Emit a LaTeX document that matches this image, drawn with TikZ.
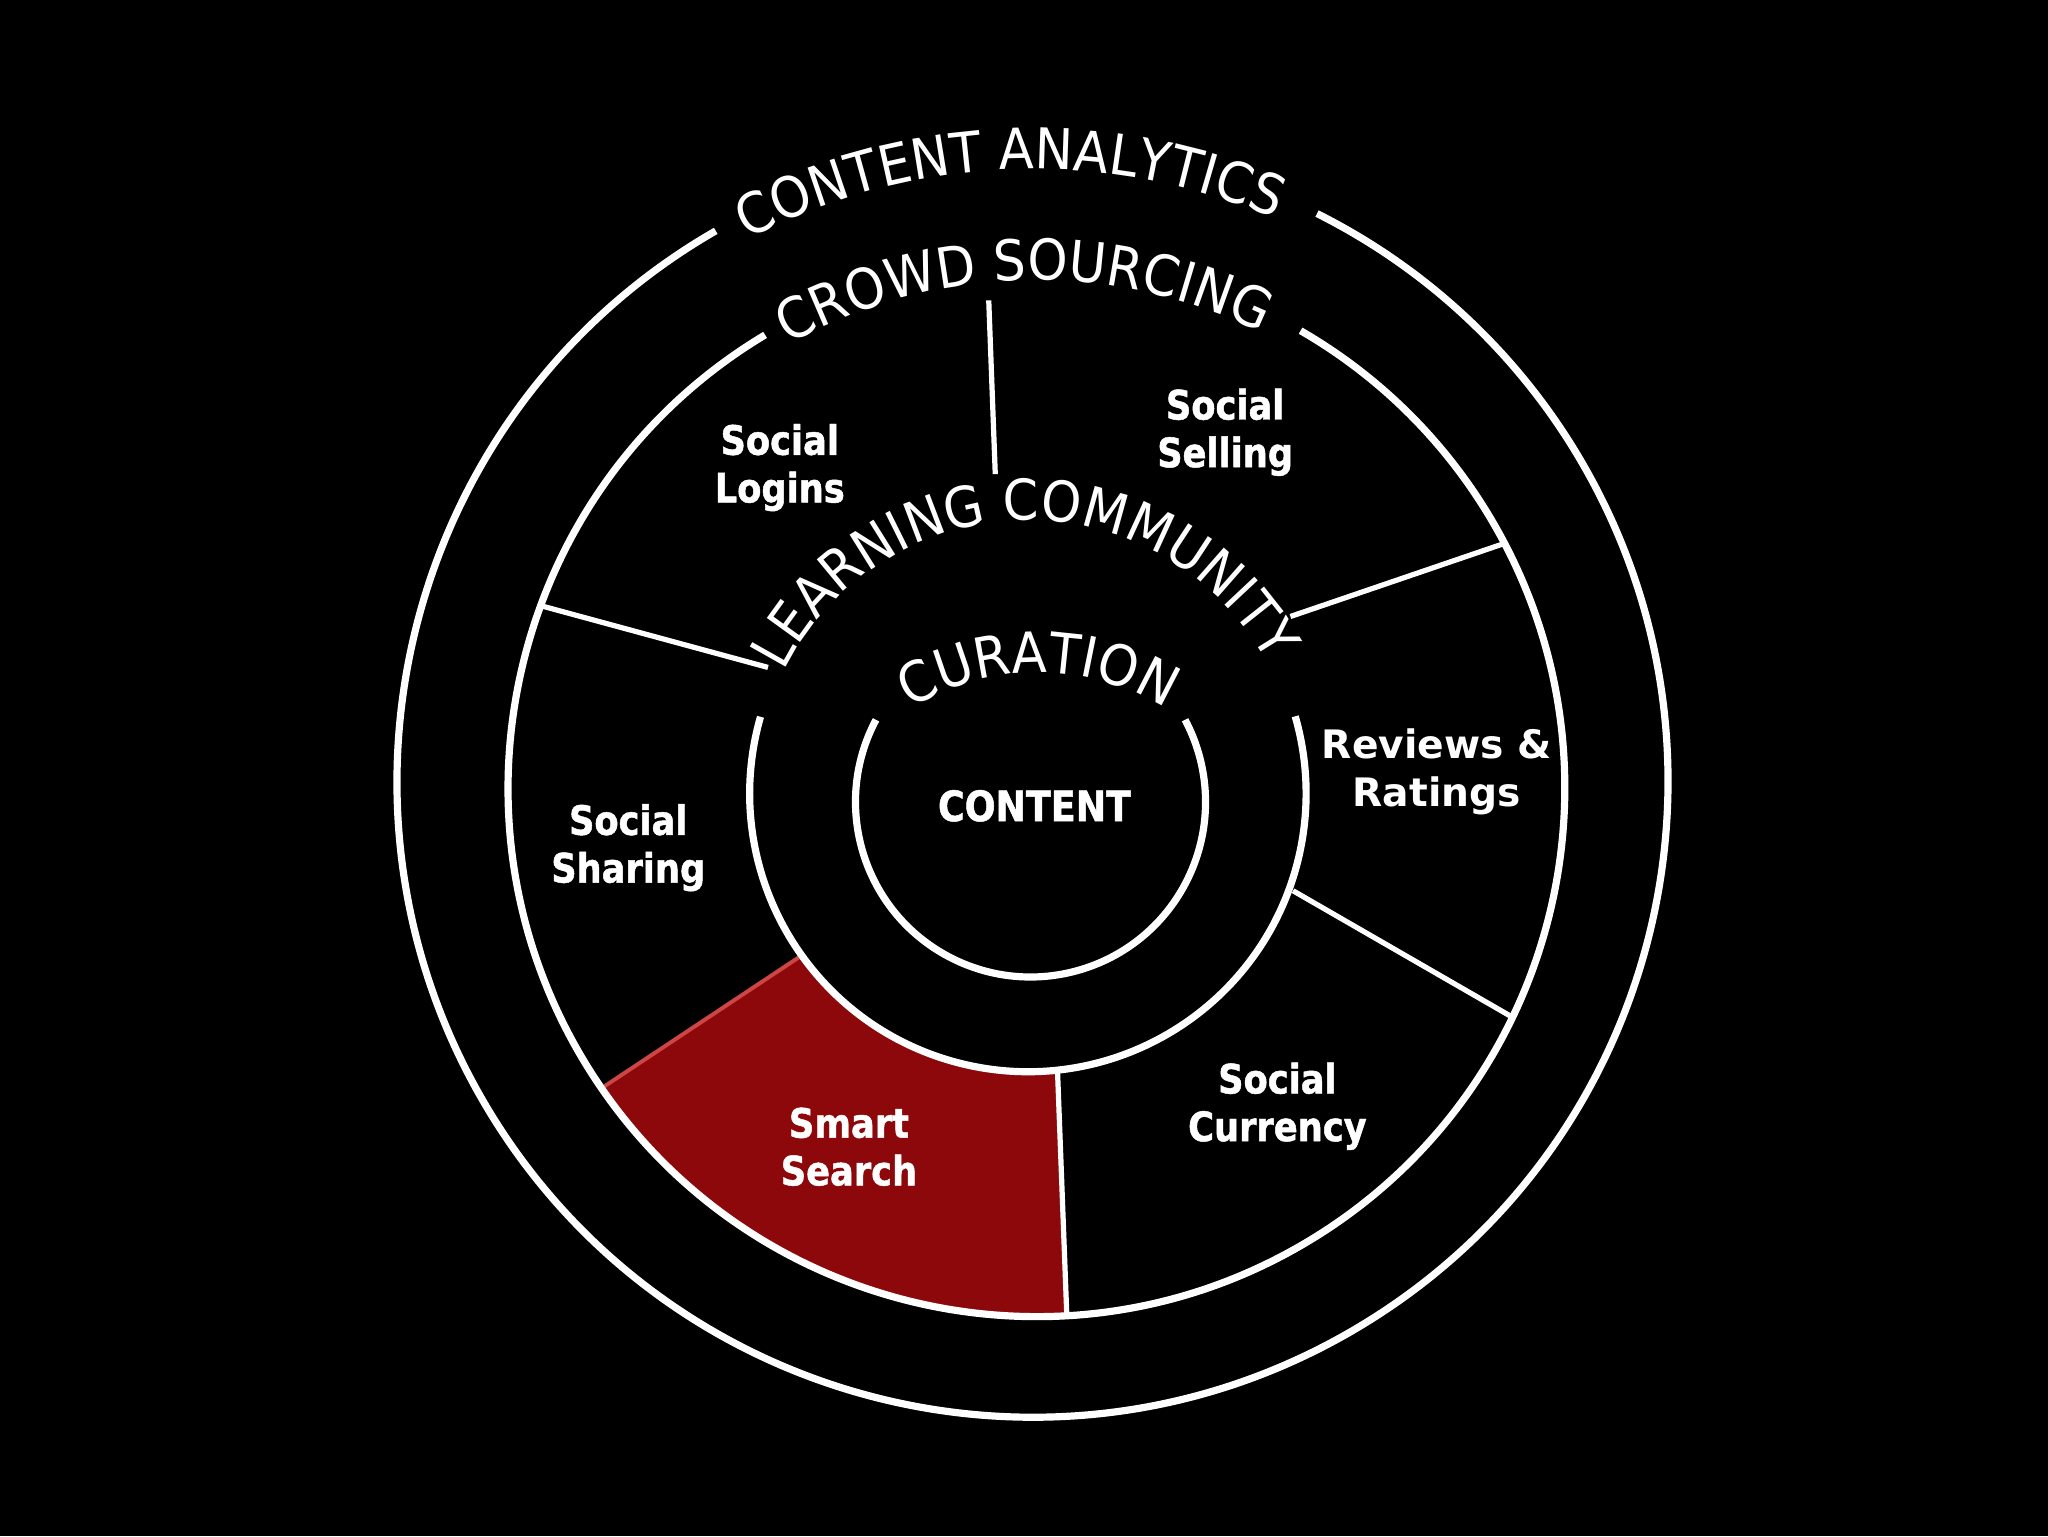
\documentclass[tikz,border=0pt]{standalone}
\usepackage{fontspec}
\usetikzlibrary{calc,decorations.text}
\newfontfamily\arcfont{DejaVu Sans}[FakeStretch=0.91]
\newfontfamily\lblfont{DejaVu Sans}[FakeStretch=0.87,FakeBold=1.2]
\newfontfamily\verdfont{DejaVu Sans}
\definecolor{ssred}{RGB}{140,8,10}
\definecolor{ssedge}{RGB}{205,70,70}
\begin{document}
\begin{tikzpicture}[x=1pt,y=1pt,
  ring/.style={white,line width=5.5pt},
  divider/.style={white,line width=4pt},
  lbl/.style={text=white,font=\lblfont\bfseries\fontsize{31}{36.5}\selectfont,align=center},
  arctext/.style={decorate,decoration={text along path,text align=center,
     text={|\arcfont\fontsize{43}{50}\selectfont\color{white}|#1}}}
]
\fill[black] (0,0) rectangle (1568,1176);
\useasboundingbox (0,0) rectangle (1568,1176);

% centres of the rings
\coordinate (oc) at (790.5,577.5);
\coordinate (sc) at (793.5,572.5);
\coordinate (cc) at (787,568.5);
\coordinate (kc) at (789,562);
\coordinate (tc) at (795,476);

% highlighted segment
\fill[ssred,draw=ssedge,line width=3pt,line join=round]
  ($(cc)+(215.6:213)$) coordinate (rs1)
  arc[start angle=215.6,end angle=276.1,radius=213] coordinate (rs2)
  -- ($(sc)+(273.3:404.5)$) coordinate (rs3)
  arc[start angle=273.3,end angle=214.6,radius=404.5] coordinate (rs4)
  -- cycle;

% rings with gaps for their titles
\draw[ring] ($(oc)+(119.9:486.5)$) arc[start angle=119.9,end angle=423.4,radius=486.5];
\draw[ring] ($(sc)+(120.9:404.5)$) arc[start angle=120.9,end angle=420,radius=404.5];
\draw[ring] ($(cc)+(164:213)$) arc[start angle=164,end angle=376.1,radius=213];
\draw[ring] ($(kc)+(152:134)$) arc[start angle=152,end angle=388,radius=134];

% dividers
\coordinate (d1a) at (757,946);  \coordinate (d1b) at (762,813);
\coordinate (d2a) at (415,712);  \coordinate (d2b) at (588,665);
\coordinate (d3a) at (1152,760); \coordinate (d3b) at (988,704);
\coordinate (d4a) at (990,494);  \coordinate (d4b) at (1160,396);
\draw[divider] (d1a) -- (d1b);
\draw[divider] (d2a) -- (d2b);
\draw[divider] (d3a) -- (d3b);
\draw[divider] (d4a) -- (d4b);
\draw[divider] (rs2) -- (rs3);

% curved titles
\path[arctext={CONTENT ANALYTICS}] ($(oc)+(132.2:469)$) arc[start angle=132.2,end angle=52.2,radius=469];
\path[arctext={CROWD SOURCING}] ($(sc)+(131.5:389)$) arc[start angle=131.5,end angle=51.5,radius=389];
\path[arctext={LEARNING COMMUNITY}] ($(cc)+(171:209)$) arc[start angle=171,end angle=11,radius=209];
\path[arctext={CURATION}] ($(tc)+(130:185)$) arc[start angle=130,end angle=50,radius=185];

% segment labels
\node[lbl] (logins) at (597,818) {Social\\Logins};
\node[lbl] (selling) at (938,845) {Social\\Selling};
\node[lbl] (sharing) at (481,527) {Social\\Sharing};
\node[lbl,font=\verdfont\bfseries\fontsize{30}{36.5}\selectfont] (reviews) at (1100,585) {Reviews \&\\Ratings};
\node[lbl] (currency) at (978,329) {Social\\Currency};
\node[lbl] (search) at (650,298) {Smart\\Search};
\node[lbl,font=\lblfont\bfseries\fontsize{32}{36.5}\selectfont] (content) at (792,559) {CONTENT};
\end{tikzpicture}
\end{document}
